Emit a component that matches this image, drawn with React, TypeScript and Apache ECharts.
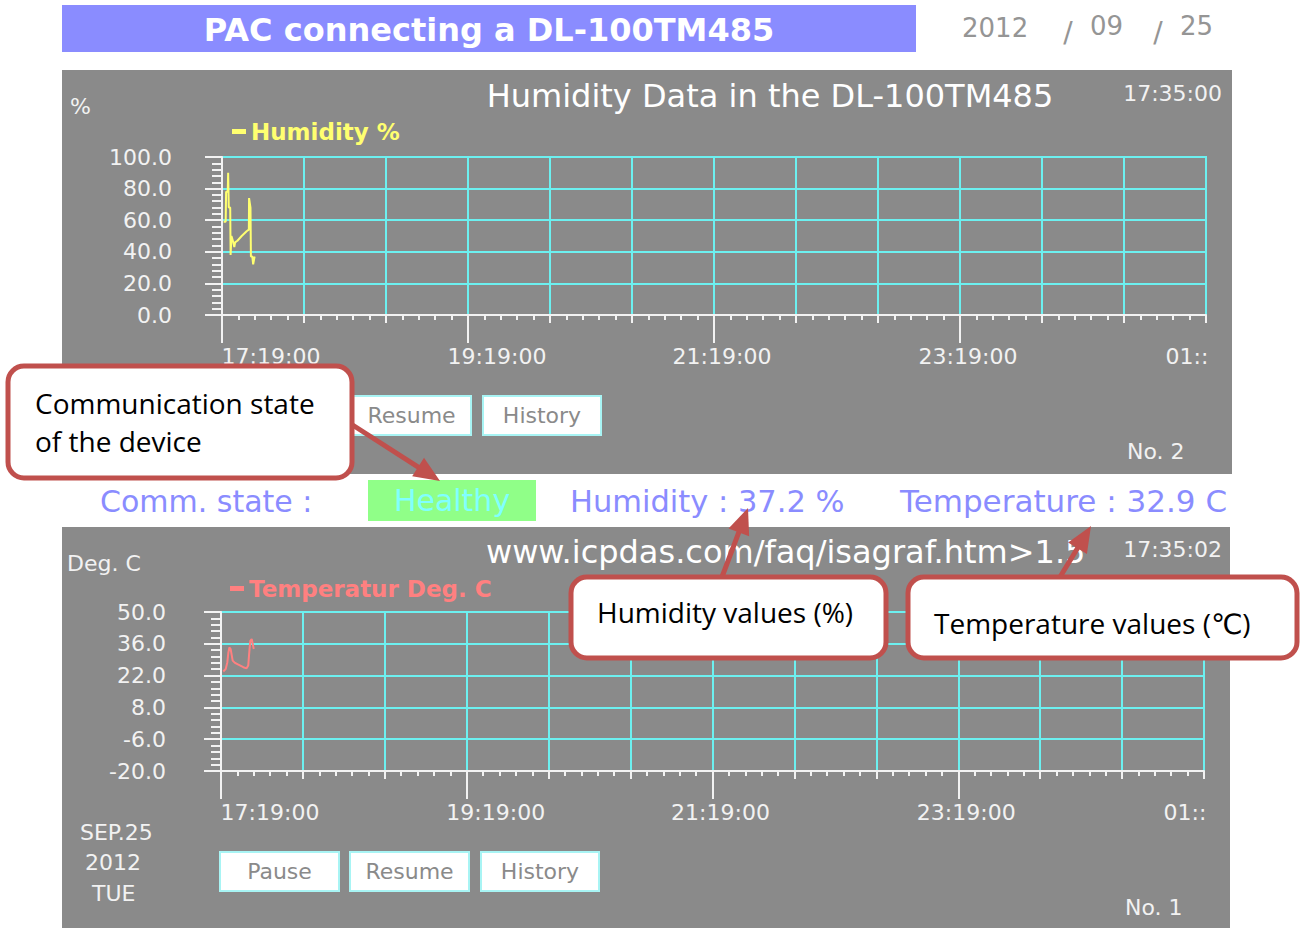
import React, { useEffect, useRef } from "react";
import * as echarts from "echarts";

// ---------- data ----------
// x axis: minutes after 17:19:00 (one grid column = 40 min, 8 hours in view)
const X_MAX = 480;
const X_GRID_STEP = 40;
const X_LABEL_STEP = 120;
const X_TICK_LABELS = ["17:19:00", "19:19:00", "21:19:00", "23:19:00", "01::"];
const X_MAJOR_TICKS = [0, 120, 240, 360];

const HUM_MIN = 0;
const HUM_MAX = 100;
const HUM_STEP = 20;
const TEMP_MIN = -20;
const TEMP_MAX = 50;
const TEMP_STEP = 14;

const HUM_T = [0.8, 1.8, 2.0, 2.8, 3.0, 3.3, 4.0, 4.2, 4.6, 5.5, 6.0, 6.4, 7.5, 9.6, 12.0, 13.1, 13.2, 13.9, 14.1, 14.8, 15.2, 15.9];
const HUM_V = [59, 59, 78, 78, 90, 68, 68, 38, 50, 46, 43, 46, 47, 50, 53, 54, 74, 68, 37, 37, 32, 37];

const TEMP_T = [1.1, 2.3, 3.1, 3.6, 4.1, 4.7, 5.7, 6.8, 8.5, 10.9, 12.5, 13.3, 13.8, 14.3, 15.0, 15.5, 16.0];
const TEMP_V = [23.8, 24.9, 27.9, 32.2, 34.4, 33.7, 28.6, 27.6, 26.8, 25.7, 25.2, 26.4, 32.2, 37.3, 38.1, 35.9, 33.7];

const HUM_NOW = "37.2";
const TEMP_NOW = "32.9";

// ---------- style ----------
const FONT = "'DejaVu Sans', sans-serif";
const CAL = "'Open Sans', 'DejaVu Sans', sans-serif";
const PANEL = "#8a8a8a";
const CYAN = "#6cf0f0";
const LBL = "#f2f2f2";
const YEL = "#ffff70";
const TEMPC = "#ff8080";
const BLUE = "#8a8cff";
const RED = "#c0504d";

// shift (px) of each x label relative to a centred label
const X_LABEL_SHIFT = [49, 29, 8, 8, -19];

function txt(x: number, y: number, text: string, o: any = {}) {
  const align = o.align ?? "left";
  return {
    type: "text",
    x,
    y,
    z: o.z ?? 5,
    style: {
      text,
      fill: o.color ?? LBL,
      fontSize: o.size ?? 22,
      fontFamily: o.font ?? FONT,
      fontWeight: o.weight ?? "normal",
      align,
      textAlign: align,
      verticalAlign: "middle",
      textVerticalAlign: "middle",
    },
  };
}

function rect(x: number, y: number, w: number, h: number, style: any, z = -10, r = 0) {
  return { type: "rect", z, shape: { x, y, width: w, height: h, r }, style };
}

function button(x: number, y: number, w: number, h: number, label: string) {
  return [
    rect(x, y, w, h, { fill: "#ffffff", stroke: "#a8f4f4", lineWidth: 2 }, 3),
    txt(x + w / 2, y + h / 2, label, { align: "center", color: "#8a8a8a", z: 4 }),
  ];
}

function arrow(x1: number, y1: number, x2: number, y2: number) {
  const dx = x2 - x1;
  const dy = y2 - y1;
  const len = Math.hypot(dx, dy);
  const ux = dx / len;
  const uy = dy / len;
  const hl = 26;
  const hw = 11;
  const bx = x2 - ux * hl;
  const by = y2 - uy * hl;
  return [
    { type: "line", z: 100, shape: { x1, y1, x2: bx + ux * 2, y2: by + uy * 2 }, style: { stroke: RED, lineWidth: 5 } },
    {
      type: "polygon",
      z: 100,
      shape: { points: [[x2, y2], [bx - uy * hw, by + ux * hw], [bx + uy * hw, by - ux * hw]] },
      style: { fill: RED },
    },
  ];
}

function callout(x: number, y: number, w: number, h: number, lines: string[], tx: number, ty: number[]) {
  const els: any[] = [rect(x, y, w, h, { fill: "#ffffff", stroke: RED, lineWidth: 5 }, 101, 16)];
  lines.forEach((l, i) => els.push(txt(tx, ty[i], l, { font: CAL, size: 28, color: "#000000", z: 102 })));
  return els;
}

function xAxes(gridIndex: number) {
  const tickStyle = { color: LBL, width: 2 };
  const rich: any = {};
  X_TICK_LABELS.forEach((_, i) => {
    const s = X_LABEL_SHIFT[i];
    rich["t" + i] = {
      fontSize: 22,
      fontFamily: FONT,
      color: LBL,
      padding: s >= 0 ? [0, 0, 0, 2 * s] : [0, -2 * s, 0, 0],
    };
  });
  return [
    {
      type: "value",
      gridIndex,
      min: 0,
      max: X_MAX,
      interval: X_GRID_STEP,
      position: "bottom",
      offset: 7,
      axisLine: { show: true, lineStyle: tickStyle },
      axisTick: { show: true, length: 8, lineStyle: tickStyle },
      minorTick: { show: true, splitNumber: 5, length: 5, lineStyle: tickStyle },
      axisLabel: { show: false },
      splitLine: { show: true, lineStyle: { color: CYAN, width: 2 } },
    },
    {
      type: "value",
      gridIndex,
      min: 0,
      max: X_MAX,
      interval: X_LABEL_STEP,
      position: "bottom",
      offset: 7,
      axisLine: { show: false },
      axisTick: { show: true, length: 21, lineStyle: tickStyle, customValues: X_MAJOR_TICKS },
      splitLine: { show: false },
      axisLabel: {
        show: true,
        margin: 23,
        hideOverlap: false,
        formatter: (v: number) => {
          const i = Math.round(v / X_LABEL_STEP);
          return `{t${i}|${X_TICK_LABELS[i]}}`;
        },
        rich,
      },
    },
  ];
}

function yAxis(gridIndex: number, min: number, max: number, step: number, margin: number, fmt: (v: number) => string) {
  const tickStyle = { color: LBL, width: 2 };
  return {
    type: "value",
    gridIndex,
    min,
    max,
    interval: step,
    offset: 5,
    axisLine: { show: true, lineStyle: tickStyle },
    axisTick: { show: true, length: 17, lineStyle: tickStyle },
    minorTick: { show: true, splitNumber: 5, length: 10, lineStyle: tickStyle },
    splitLine: { show: true, lineStyle: { color: CYAN, width: 2 } },
    axisLabel: { show: true, margin, fontSize: 22, fontFamily: FONT, color: LBL, formatter: fmt },
  };
}

export default function App() {
  const ref = useRef<HTMLDivElement>(null);

  useEffect(() => {
    if (!ref.current) return;
    const chart = echarts.init(ref.current, undefined, { renderer: "svg" });

    const graphic: any[] = [
      // panels
      rect(62, 5, 854, 47, { fill: BLUE }),
      rect(62, 70, 1170, 404, { fill: PANEL }),
      rect(62, 527, 1168, 401, { fill: PANEL }),
      rect(368, 480, 168, 41, { fill: "#90ff88" }),
      // header
      txt(489, 30, "PAC connecting a DL-100TM485", { align: "center", color: "#ffffff", size: 32, weight: "bold" }),
      txt(962, 28, "2012", { color: "#959595", size: 26 }),
      txt(1068, 32, "/", { color: "#959595", size: 28, align: "center" }),
      txt(1090, 26, "09", { color: "#959595", size: 26 }),
      txt(1158, 32, "/", { color: "#959595", size: 28, align: "center" }),
      txt(1180, 26, "25", { color: "#959595", size: 26 }),
      // upper panel
      txt(770, 96, "Humidity Data in the DL-100TM485", { align: "center", color: "#ffffff", size: 32 }),
      txt(1222, 93, "17:35:00", { align: "right" }),
      txt(70, 106, "%"),
      txt(1127, 451, "No. 2"),
      ...button(352, 396, 119, 39, "Resume"),
      ...button(483, 396, 118, 39, "History"),
      // status row
      txt(100, 501, "Comm. state :", { color: BLUE, size: 30 }),
      txt(452, 500, "Healthy", { color: "#80ffff", size: 30, align: "center" }),
      txt(570, 501, `Humidity : ${HUM_NOW} %`, { color: BLUE, size: 30.5 }),
      txt(900, 501, `Temperature : ${TEMP_NOW} C`, { color: BLUE, size: 31 }),
      // lower panel
      txt(486, 552, "www.icpdas.com/faq/isagraf.htm>1.5", { color: "#ffffff", size: 32 }),
      txt(1222, 549, "17:35:02", { align: "right" }),
      txt(67, 563, "Deg. C"),
      txt(80, 832, "SEP.25"),
      txt(85, 862, "2012"),
      txt(92, 893, "TUE"),
      txt(1125, 907, "No. 1"),
      ...button(220, 852, 119, 39, "Pause"),
      ...button(350, 852, 119, 39, "Resume"),
      ...button(481, 852, 118, 39, "History"),
      // annotations
      ...arrow(351, 424, 440, 481),
      ...callout(8, 366, 344, 112, ["Communication state", "of the device"], 35, [403, 441]),
      ...arrow(722, 577, 748, 508),
      ...callout(571, 577, 315, 81, ["Humidity values (%)"], 597, [612]),
      ...arrow(1060, 577, 1091, 526),
      ...callout(908, 577, 389, 81, ["Temperature values (℃)"], 934, [623]),
    ];

    const legendBase = {
      icon: "rect",
      itemWidth: 14,
      itemHeight: 5,
      itemGap: 6,
      padding: 0,
      selectedMode: false,
    };

    chart.setOption({
      animation: false,
      backgroundColor: "#ffffff",
      grid: [
        { left: 222, top: 157, width: 984, height: 158, show: true, borderColor: CYAN, borderWidth: 2, backgroundColor: "transparent" },
        { left: 221, top: 612, width: 983, height: 159, show: true, borderColor: CYAN, borderWidth: 2, backgroundColor: "transparent" },
      ],
      xAxis: [...xAxes(0), ...xAxes(1)],
      yAxis: [
        yAxis(0, HUM_MIN, HUM_MAX, HUM_STEP, 45, (v: number) => v.toFixed(1)),
        yAxis(1, 0, TEMP_MAX - TEMP_MIN, TEMP_STEP, 50, (v: number) => (v + TEMP_MIN).toFixed(1)),
      ],
      legend: [
        { ...legendBase, data: ["Humidity %"], left: 232, top: 120, textStyle: { color: YEL, fontSize: 23, fontWeight: "bold", fontFamily: FONT } },
        { ...legendBase, data: ["Temperatur Deg. C"], left: 230, top: 577, textStyle: { color: TEMPC, fontSize: 23, fontWeight: "bold", fontFamily: FONT } },
      ],
      series: [
        {
          type: "line",
          name: "Humidity %",
          xAxisIndex: 0,
          yAxisIndex: 0,
          data: HUM_T.map((t, i) => [t, HUM_V[i]]),
          showSymbol: false,
          lineStyle: { color: YEL, width: 2 },
          itemStyle: { color: YEL },
        },
        {
          type: "line",
          name: "Temperatur Deg. C",
          xAxisIndex: 2,
          yAxisIndex: 1,
          data: TEMP_T.map((t, i) => [t, TEMP_V[i] - TEMP_MIN]),
          showSymbol: false,
          lineStyle: { color: TEMPC, width: 2 },
          itemStyle: { color: TEMPC },
        },
      ],
      graphic,
    });

    return () => chart.dispose();
  }, []);

  return <div ref={ref} style={{ position: "fixed", left: 0, top: 0, width: 1303, height: 928 }} />;
}
